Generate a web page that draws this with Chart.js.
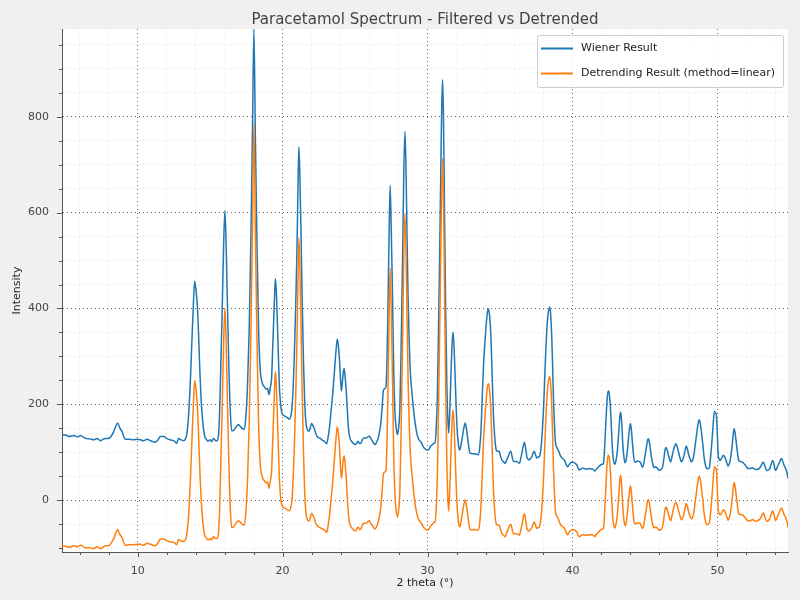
<!DOCTYPE html>
<html><head><meta charset="utf-8">
<script src="https://cdn.jsdelivr.net/npm/chart.js@4.4.0/dist/chart.umd.min.js"></script>
<style>html,body{margin:0;padding:0;background:#f0f0f0;}#wrap{width:800px;height:600px;}</style>
</head><body><div id="wrap"><canvas id="c" width="800" height="600"></canvas></div>
<script>
const chartTitle = 'Paracetamol Spectrum - Filtered vs Detrended';
const xAxisTitle = '2 theta (°)';
const yAxisTitle = 'Intensity';
const seriesLabels = ['Wiener Result', 'Detrending Result (method=linear)'];
const xGridValues = [6,8,10,12,14,16,18,20,22,24,26,28,30,32,34,36,38,40,42,44,46,48,50,52,54];
const xTickLabels = [10,20,30,40,50];
const yGridValues = [-100,-50,0,50,100,150,200,250,300,350,400,450,500,550,600,650,700,750,800,850,900,950];
const yTickLabels = [0,200,400,600,800];

const twoTheta = [
4.78,5.02,5.3,5.6,5.85,6.05,6.4,6.7,6.97,7.2,7.43,7.6,7.78,8.0,8.2,8.35,8.5,8.62,8.75,8.92,
9.15,9.4,9.7,9.95,10.2,10.4,10.64,10.9,11.2,11.4,11.56,11.8,12.0,12.25,12.5,12.7,12.82,13.0,13.17,13.3,
13.4,13.52,13.62,13.74,13.85,13.93,14.02,14.13,14.22,14.31,14.42,14.54,14.64,14.72,14.85,15.0,15.1,15.23,15.35,15.46,
15.57,15.65,15.73,15.82,15.93,16.02,16.1,16.2,16.3,16.4,16.49,16.6,16.72,16.85,16.95,17.06,17.2,17.36,17.47,17.58,
17.7,17.82,17.93,18.02,18.12,18.22,18.34,18.46,18.55,18.65,18.74,18.85,18.97,19.06,19.15,19.24,19.32,19.38,19.45,19.5,
19.56,19.64,19.72,19.8,19.9,20.0,20.12,20.23,20.35,20.46,20.56,20.64,20.72,20.8,20.9,20.99,21.06,21.12,21.18,21.26,
21.35,21.44,21.52,21.6,21.7,21.81,21.9,22.0,22.1,22.2,22.3,22.41,22.52,22.64,22.75,22.87,22.97,23.04,23.12,23.22,
23.34,23.45,23.55,23.63,23.71,23.77,23.84,23.93,24.0,24.06,24.12,24.2,24.25,24.32,24.41,24.48,24.55,24.64,24.76,24.9,
25.03,25.15,25.22,25.32,25.4,25.5,25.6,25.75,25.88,25.98,26.1,26.21,26.3,26.38,26.5,26.6,26.7,26.78,26.88,26.95,
27.05,27.13,27.2,27.26,27.33,27.42,27.5,27.58,27.66,27.75,27.84,27.92,28.0,28.09,28.18,28.28,28.36,28.44,28.51,28.58,
28.66,28.74,28.82,28.9,29.0,29.08,29.2,29.31,29.43,29.54,29.7,29.8,29.95,30.1,30.2,30.34,30.45,30.52,30.6,30.68,
30.76,30.84,30.92,30.98,31.04,31.1,31.18,31.26,31.33,31.4,31.46,31.54,31.62,31.7,31.76,31.83,31.9,31.98,32.06,32.15,
32.23,32.32,32.41,32.5,32.6,32.68,32.76,32.85,32.94,33.08,33.22,33.38,33.52,33.6,33.68,33.77,33.86,33.96,34.05,34.13,
34.2,34.28,34.37,34.46,34.55,34.64,34.74,34.84,34.94,35.04,35.13,35.25,35.36,35.46,35.56,35.65,35.75,35.84,35.93,36.04,
36.14,36.24,36.34,36.45,36.55,36.62,36.69,36.77,36.85,36.93,37.01,37.1,37.2,37.28,37.36,37.45,37.54,37.63,37.72,37.8,
37.86,37.93,38.0,38.08,38.16,38.23,38.3,38.37,38.44,38.5,38.57,38.63,38.69,38.76,38.83,38.92,39.01,39.1,39.2,39.32,
39.43,39.55,39.66,39.75,39.84,39.95,40.07,40.18,40.3,40.38,40.46,40.58,40.69,40.8,40.92,41.04,41.15,41.27,41.38,41.46,
41.54,41.63,41.72,41.84,41.95,42.05,42.14,42.22,42.3,42.38,42.45,42.51,42.58,42.64,42.71,42.78,42.85,42.92,43.0,43.1,
43.2,43.27,43.33,43.4,43.47,43.55,43.63,43.71,43.79,43.9,44.0,44.07,44.14,44.21,44.28,44.38,44.48,44.58,44.67,44.75,
44.83,44.91,44.99,45.1,45.18,45.24,45.3,45.38,45.45,45.54,45.63,45.72,45.82,45.9,46.0,46.1,46.21,46.3,46.37,46.44,
46.52,46.6,46.7,46.78,46.86,46.94,47.04,47.13,47.22,47.31,47.42,47.52,47.6,47.7,47.78,47.84,47.92,48.0,48.1,48.21,
48.3,48.39,48.48,48.57,48.66,48.74,48.82,48.9,49.0,49.08,49.17,49.26,49.35,49.45,49.53,49.61,49.7,49.79,49.86,49.93,
49.99,50.05,50.12,50.18,50.3,50.41,50.48,50.55,50.65,50.74,50.83,50.92,51.02,51.1,51.15,51.22,51.31,51.39,51.47,51.56,
51.66,51.75,51.84,51.95,52.07,52.16,52.25,52.33,52.41,52.52,52.64,52.75,52.87,52.98,53.08,53.17,53.27,53.4,53.5,53.61,
53.7,53.82,53.9,54.0,54.09,54.18,54.3,54.41,54.5,54.6,54.68,54.76,54.82,54.87
];

const wienerResult = [
137,136,133,135,132,135,129,128,126,129,124,127,129,129,135,143,155,161,152,143,
127,127,126,127,126,124,127,124,121,126,133,133,129,126,124,119,129,126,124,128,
140,180,238,330,413,457,440,400,330,255,190,150,132,128,123,126,122,129,125,124,
133,180,273,380,530,604,540,400,270,180,145,145,150,155,158,155,150,148,176,240,
362,560,790,983,760,560,362,270,250,240,237,232,233,220,235,255,320,370,430,462,
440,370,290,225,190,179,176,174,172,169,175,190,230,291,400,520,650,737,690,576,
420,291,210,165,148,144,150,160,155,148,138,132,130,128,125,123,120,118,128,148,
185,219,258,291,320,336,325,290,250,228,245,270,275,255,219,180,148,130,123,118,
116,121,123,118,119,126,130,130,132,134,128,123,118,116,122,130,145,162,200,228,
233,236,290,380,520,657,560,433,280,183,150,137,150,190,320,505,680,769,700,560,
420,326,265,232,200,176,150,134,125,122,112,108,105,106,112,116,119,119,150,220,
360,520,700,820,877,800,580,380,245,170,140,190,265,330,351,320,260,190,140,112,
105,118,133,150,161,150,132,110,98,97,97,96,95,110,140,210,280,330,367,392,
399,385,342,260,175,130,105,102,102,92,84,80,77,84,91,98,102,90,81,81,
81,79,77,90,105,116,121,108,91,86,84,87,91,98,102,95,88,90,91,102,
119,150,189,250,314,355,384,398,403,385,342,280,210,155,119,110,105,98,91,87,
84,76,70,73,77,79,79,77,74,68,63,65,67,66,65,65,66,65,65,63,
61,64,67,71,74,75,77,110,160,205,226,228,210,181,135,97,80,75,82,104,
145,175,184,160,118,90,78,85,104,140,160,145,118,95,80,80,82,81,80,74,
69,75,90,110,125,128,122,105,90,75,68,70,68,65,62,64,69,85,102,110,
106,97,85,80,90,101,112,118,112,101,88,80,84,94,105,113,108,97,88,80,
84,97,118,139,158,168,160,142,115,90,74,66,66,69,90,118,155,185,183,177,
140,97,86,83,88,94,91,87,78,71,77,90,115,140,149,140,118,98,83,81,
80,79,76,72,67,66,66,67,68,66,64,64,66,70,76,80,72,62,63,66,
75,83,75,62,66,73,80,87,82,73,68,62,55,45
];

const detrendResult = [
-95,-96,-98,-95,-97,-94,-99,-99,-101,-97,-101,-98,-95,-95,-88,-80,-68,-61,-70,-78,
-94,-93,-93,-92,-92,-94,-90,-92,-95,-89,-81,-81,-84,-87,-88,-93,-82,-85,-86,-82,
-70,-29,29,121,204,249,232,192,122,48,-17,-57,-75,-78,-83,-80,-83,-76,-80,-80,
-71,-24,69,177,327,401,337,198,68,-22,-57,-56,-51,-46,-43,-45,-50,-52,-23,41,
163,362,592,785,563,363,165,73,54,44,41,36,38,25,40,60,126,176,236,268,
246,177,97,32,-3,-14,-16,-18,-20,-22,-16,-1,39,101,210,330,460,547,501,387,
231,102,21,-23,-40,-44,-38,-27,-32,-39,-49,-54,-56,-58,-60,-62,-65,-67,-57,-36,
1,35,75,108,137,153,142,108,68,46,63,88,93,74,38,-1,-33,-50,-57,-62,
-64,-58,-56,-61,-60,-52,-48,-48,-45,-43,-49,-53,-58,-60,-54,-45,-30,-13,25,54,
59,62,116,206,347,484,387,260,107,11,-22,-35,-22,18,149,334,509,598,530,390,
250,156,95,63,31,7,-19,-34,-43,-46,-55,-59,-62,-60,-54,-50,-46,-46,-15,55,
195,356,536,656,713,636,417,217,82,7,-23,27,103,168,189,158,98,29,-21,-49,
-56,-43,-27,-10,1,-10,-27,-49,-61,-62,-61,-62,-62,-47,-17,53,123,174,211,236,
243,230,187,105,20,-25,-49,-52,-52,-61,-69,-73,-76,-68,-61,-54,-50,-61,-70,-70,
-70,-71,-73,-60,-45,-33,-28,-41,-58,-63,-64,-61,-57,-50,-45,-52,-59,-57,-56,-44,
-27,4,43,104,169,210,239,253,258,241,198,136,66,11,-25,-33,-38,-45,-52,-55,
-58,-66,-72,-68,-64,-62,-61,-63,-66,-72,-76,-74,-72,-72,-73,-73,-72,-72,-72,-74,
-76,-72,-69,-65,-62,-60,-58,-25,25,71,92,94,76,47,2,-36,-53,-58,-51,-29,
13,43,52,28,-14,-41,-53,-46,-27,10,30,15,-12,-35,-49,-49,-47,-48,-48,-54,
-59,-53,-38,-17,-2,1,-5,-22,-36,-51,-58,-56,-57,-60,-63,-61,-55,-39,-22,-14,
-18,-26,-38,-43,-33,-22,-10,-4,-10,-21,-33,-41,-37,-27,-15,-7,-12,-23,-32,-39,
-35,-22,-1,21,40,50,42,25,-2,-27,-43,-51,-50,-47,-26,2,40,70,68,62,
25,-17,-28,-31,-26,-20,-22,-26,-35,-42,-35,-22,3,28,37,29,7,-13,-28,-30,
-30,-31,-34,-38,-42,-43,-43,-42,-40,-42,-44,-43,-41,-37,-31,-26,-34,-44,-43,-39,
-30,-22,-29,-42,-38,-31,-23,-16,-21,-30,-34,-40,-47,-57
];

const xRange = [4.78, 54.87];
const yRange = [-108, 983];
const seriesColors = ['#1f77b4', '#ff7f0e'];

Chart.defaults.font.family = "'DejaVu Sans', sans-serif";

const isMult = (v, m) => Math.abs(v / m - Math.round(v / m)) < 1e-6;

const plotBg = {
  id: 'plotBg',
  beforeDraw(chart) {
    const {ctx, chartArea: a} = chart;
    ctx.save();
    ctx.fillStyle = '#f0f0f0';
    ctx.fillRect(0, 0, chart.width, chart.height);
    ctx.fillStyle = '#ffffff';
    ctx.fillRect(a.left, a.top, a.right - a.left, a.bottom - a.top);
    ctx.restore();
  }
};

const tickMarks = {
  id: 'tickMarks',
  afterDraw(chart) {
    const {ctx, chartArea: a, scales: {x, y}} = chart;
    ctx.save();
    ctx.strokeStyle = '#555';
    ctx.lineWidth = 1;
    x.ticks.forEach(t => {
      const px = Math.round(x.getPixelForValue(t.value)) + 0.5;
      const len = isMult(t.value, 10) ? 5 : 3;
      ctx.beginPath(); ctx.moveTo(px, a.bottom); ctx.lineTo(px, a.bottom + len); ctx.stroke();
    });
    y.ticks.forEach(t => {
      const py = Math.round(y.getPixelForValue(t.value)) + 0.5;
      const len = isMult(t.value, 200) ? 5 : 3;
      ctx.beginPath(); ctx.moveTo(a.left, py); ctx.lineTo(a.left - len, py); ctx.stroke();
    });
    ctx.restore();
  }
};

const innerLegend = {
  id: 'innerLegend',
  afterDraw(chart) {
    const {ctx, chartArea: a} = chart;
    const w = 246, h = 52;
    const bx = a.right - 5 - w, by = a.top + 6;
    ctx.save();
    ctx.fillStyle = 'rgba(255,255,255,0.85)';
    ctx.strokeStyle = '#cccccc';
    ctx.lineWidth = 1;
    ctx.beginPath();
    ctx.roundRect(bx + 0.5, by + 0.5, w, h, 2);
    ctx.fill(); ctx.stroke();
    ctx.font = "11px 'DejaVu Sans', sans-serif";
    ctx.textBaseline = 'middle';
    ctx.fillStyle = '#222';
    chart.data.datasets.forEach((ds, i) => {
      const ly = by + 13.5 + i * 25;
      ctx.strokeStyle = ds.borderColor;
      ctx.lineWidth = 2;
      ctx.beginPath(); ctx.moveTo(bx + 4, ly); ctx.lineTo(bx + 36, ly); ctx.stroke();
      ctx.fillText(ds.label, bx + 44, ly);
    });
    ctx.restore();
  }
};

const toPoints = (ys) => twoTheta.map((x, i) => ({x, y: ys[i]}));

new Chart(document.getElementById('c'), {
  type: 'line',
  data: {
    datasets: [
      {label: seriesLabels[0], data: toPoints(wienerResult), borderColor: seriesColors[0], order: 2},
      {label: seriesLabels[1], data: toPoints(detrendResult), borderColor: seriesColors[1], order: 1}
    ]
  },
  options: {
    responsive: false,
    animation: false,
    devicePixelRatio: 1,
    layout: {padding: {top: 0, right: 12, left: 0, bottom: 0}},
    elements: {
      point: {radius: 0},
      line: {borderWidth: 1.5, cubicInterpolationMode: 'monotone', fill: false}
    },
    plugins: {
      legend: {display: false},
      tooltip: {enabled: false},
      title: {
        display: true, text: chartTitle, fullSize: false, color: '#444',
        font: {size: 15, weight: 'normal', lineHeight: 1.2}, padding: {top: 11, bottom: 0}
      }
    },
    scales: {
      x: {
        type: 'linear', min: xRange[0], max: xRange[1], bounds: 'data',
        afterBuildTicks: s => { s.ticks = xGridValues.map(v => ({value: v})); },
        afterFit: s => { s.height = 48; },
        ticks: {
          autoSkip: false, maxRotation: 0, color: '#444', font: {size: 11}, padding: 13,
          callback: v => xTickLabels.includes(v) ? String(v) : ''
        },
        grid: {
          drawTicks: false,
          color: c => isMult(c.tick.value, 10) ? '#666' : '#dddddd',
          lineWidth: c => isMult(c.tick.value, 10) ? 1 : 0.8
        },
        border: {display: true, color: '#555', width: 1, dash: [1, 3]},
        title: {display: true, text: xAxisTitle, color: '#222', font: {size: 11}, padding: {top: 0, bottom: 10}}
      },
      y: {
        type: 'linear', min: yRange[0], max: yRange[1], bounds: 'data',
        afterBuildTicks: s => { s.ticks = yGridValues.map(v => ({value: v})); },
        afterFit: s => { s.width = 62; },
        ticks: {
          autoSkip: false, color: '#444', font: {size: 11}, padding: 13,
          callback: v => yTickLabels.includes(v) ? String(v) : ''
        },
        grid: {
          drawTicks: false,
          color: c => isMult(c.tick.value, 200) ? '#666' : '#dddddd',
          lineWidth: c => isMult(c.tick.value, 200) ? 1 : 0.8
        },
        border: {display: true, color: '#555', width: 1, dash: [1, 3]},
        title: {display: true, text: yAxisTitle, color: '#222', font: {size: 11}, padding: {top: 11, bottom: 0}}
      }
    }
  },
  plugins: [plotBg, tickMarks, innerLegend]
});
</script>
</body></html>
